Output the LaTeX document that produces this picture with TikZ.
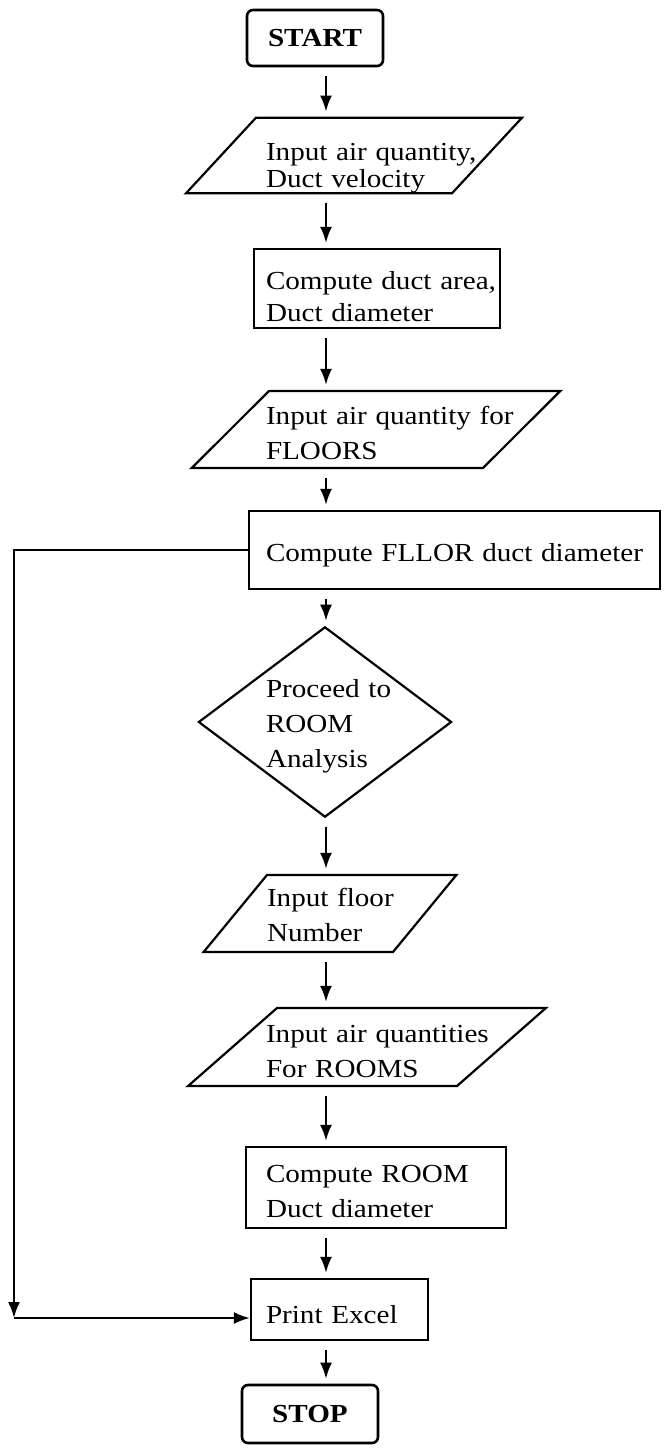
\documentclass[tikz,border=0pt]{standalone}
\usepackage{fontspec}
\setmainfont{Liberation Serif}[FakeStretch=1.12]
\usetikzlibrary{arrows.meta,shapes.geometric}
\hyphenpenalty=10000
\lefthyphenmin=64

\begin{document}
\begin{tikzpicture}[x=1pt, y=-1pt, >={Latex[length=16pt,width=12pt]}, line width=2.2pt,
  every node/.style={font=\fontsize{26}{35}\selectfont},
  pad/.style={execute at begin node={\rule{0pt}{#1}}},
  term/.style={draw, rectangle, rounded corners=6pt, line width=2.6pt, minimum width=136pt, font=\fontsize{26}{34}\selectfont\bfseries},
  box/.style={draw, rectangle, align=left, inner sep=0pt},
  iobox/.style={draw, trapezium, trapezium stretches body, align=left, inner ysep=0pt},
  flow/.style={->, shorten <=9pt, shorten >=5pt}]
\useasboundingbox (0,0) rectangle (665,1448);
\node[term, minimum height=56pt] (start) at (315,38) {START};
\node[iobox, pad=43pt, trapezium left angle=47.2, trapezium right angle=132.8, minimum height=75pt, text width=176pt, inner xsep=10pt, font=\fontsize{26}{27}\selectfont] (airin) at (354,155.5) {Input~air~quantity,\\Duct~velocity};
\node[box, pad=35pt, minimum width=246pt, minimum height=79pt, text width=222pt, font=\fontsize{26}{32}\selectfont] (area) at (377,288.5) {Compute~duct~area,\\Duct~diameter};
\node[iobox, pad=26pt, trapezium left angle=38.4, trapezium right angle=141.6, minimum height=77pt, text width=220pt, inner xsep=-3pt] (floorin) at (376,429.5) {Input~air~quantity~for\\FLOORS};
\node[box, pad=29pt, minimum width=411pt, minimum height=78pt, text width=377pt] (fllor) at (454.5,550) {Compute~FLLOR~duct~diameter};
\node[draw, diamond, pad=26pt, shape aspect=1.33, minimum width=253pt, minimum height=190pt, inner sep=0pt, align=left, text width=118pt] (room) at (325,722) {Proceed~to\\ROOM\\Analysis};
\node[iobox, pad=22pt, trapezium left angle=42.1, trapezium right angle=137.9, minimum height=77pt, text width=126pt, inner xsep=0pt] (floorno) at (330,913.5) {Input~floor\\Number};
\node[iobox, pad=27pt, trapezium left angle=35, trapezium right angle=145, minimum height=78pt, text width=202pt, inner xsep=-11pt] (roomin) at (367,1047) {Input~air~quantities\\For~ROOMS};
\node[box, pad=26pt, minimum width=260pt, minimum height=81pt, text width=220pt] (roomdia) at (376,1187.5) {Compute~ROOM\\Duct~diameter};
\node[box, pad=29pt, minimum width=177pt, minimum height=61pt, text width=147pt] (print) at (339.5,1309.5) {Print~Excel};
\node[term, minimum height=58pt] (stop) at (310,1414) {STOP};
\coordinate (spine) at (326,0);
\foreach \a/\b in {start/airin, airin/area, area/floorin, floorin/fllor, fllor/room, room/floorno, floorno/roomin, roomin/roomdia, roomdia/print, print/stop}
  \draw[flow] (\a.south -| spine) -- (\b.north -| spine);
\coordinate (loop) at (14,1318);
\draw[->] (fllor.west) -| (loop);
\draw[->] (loop) -- (loop -| print.west);
\end{tikzpicture}
\end{document}
